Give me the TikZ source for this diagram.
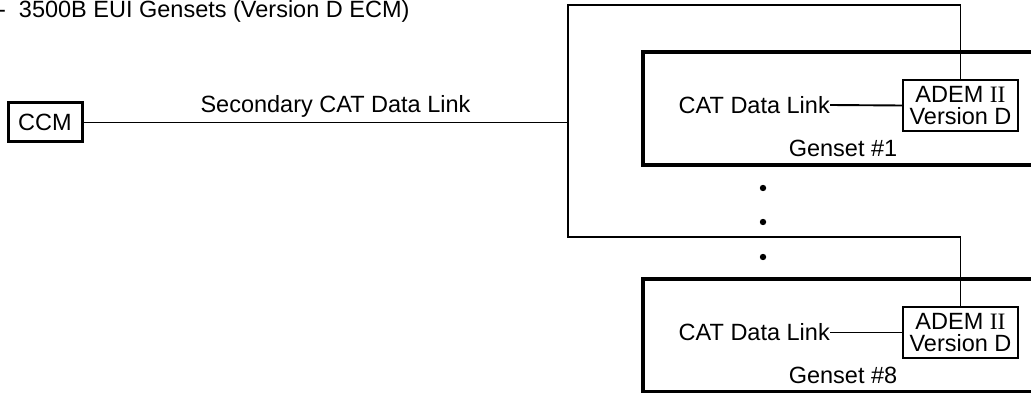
\documentclass[tikz,border=0pt]{standalone}
\usepackage{fontspec}
\setmainfont{Liberation Sans}
\newfontfamily\romfont{Liberation Serif}

\begin{document}
\begin{tikzpicture}[x=1pt,y=-1pt,
    font=\fontsize{23.5}{22}\selectfont,
    gensetbox/.style={draw,line width=3.5pt,inner sep=0pt,
      minimum width=402pt,minimum height=113pt},
    ecmbox/.style={draw,line width=1.6pt,align=center,inner sep=0pt,
      minimum width=115pt,minimum height=51pt},
    link/.style={line width=1.9pt}]
  \clip (0,0) rectangle (1031,393);
  \node[anchor=base east] (title) at (413,18) {-\ \ 3500B EUI Gensets (Version D ECM)};
  \node[draw,line width=3pt,inner sep=0pt,minimum width=74pt,
    minimum height=39pt] (ccm) at (45,122.5) {CCM};
  \node[anchor=base,inner sep=0pt] (seclink) at (335.5,113) {Secondary CAT Data Link};
  % gensets
  \node[gensetbox] (gen1) at (844,108.5) {};
  \node[gensetbox] (gen8) at (844,335.5) {};
  \node[ecmbox] (adem1) at (960.5,105.5) {ADEM {\romfont II}\\Version D};
  \node[ecmbox] (adem8) at (960.5,332.5) {ADEM {\romfont II}\\Version D};
  \node[anchor=east,inner sep=0pt] (cat1) at (830,105) {CAT Data Link};
  \node[anchor=east,inner sep=0pt] (cat8) at (830,332.5) {CAT Data Link};
  \node[anchor=base,inner sep=0pt] (lab1) at (843,157) {Genset \#1};
  \node[anchor=base,inner sep=0pt] (lab8) at (843,383) {Genset \#8};
  \coordinate (bustop) at (568,5);
  \coordinate (busbot) at (568,237);
  \draw[link] (adem1.north) |- (bustop) -- (busbot) -| (adem8.north);
  \draw[link] (ccm.east) -- (ccm.east -| bustop);
  \draw[link] (cat1.east) -- (adem1.west);
  \draw[link] (cat8.east) -- (adem8.west);
  \foreach \y in {188,222,257}
    \fill (763,\y) circle (3.2pt);
\end{tikzpicture}
\end{document}
